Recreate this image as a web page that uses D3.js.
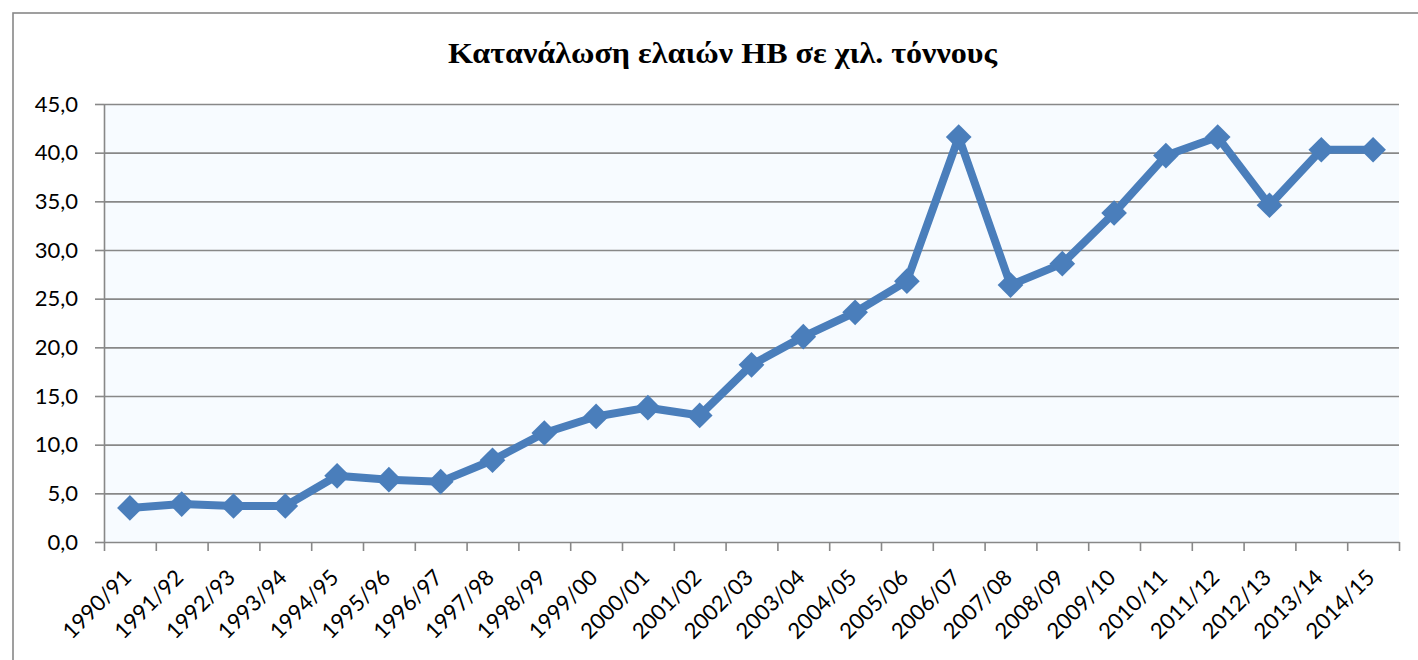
<!DOCTYPE html>
<html>
<head>
<meta charset="utf-8">
<script src="https://cdn.jsdelivr.net/npm/d3@7"></script>
<style>
  body { margin: 0; background: #fff; }
  svg { display: block; }
  .axis text { font-family: Lato, "Open Sans", sans-serif; font-size: 22px; fill: #000; }
  .axis path, .axis line { stroke: #888; stroke-width: 1.6; }
</style>
</head>
<body>
<svg width="1418" height="660"></svg>
<script>
// seasons on the x axis
const seasons = ['1990/91','1991/92','1992/93','1993/94','1994/95','1995/96','1996/97','1997/98',
  '1998/99','1999/00','2000/01','2001/02','2002/03','2003/04','2004/05','2005/06','2006/07',
  '2007/08','2008/09','2009/10','2010/11','2011/12','2012/13','2013/14','2014/15'];

// consumption, thousand tonnes
const consumption = [3.5, 3.9, 3.7, 3.7, 6.8, 6.4, 6.2, 8.4, 11.2, 12.9, 13.8, 13.0, 18.2,
  21.1, 23.6, 26.8, 41.6, 26.4, 28.6, 33.8, 39.7, 41.6, 34.6, 40.3, 40.3];

const yTicks = [0, 5, 10, 15, 20, 25, 30, 35, 40, 45];
const title = 'Κατανάλωση ελαιών ΗΒ σε χιλ. τόννους';

let svg = d3.select('svg');
const plotLeft = 104, plotRight = 1399, plotTop = 104, plotBottom = 542;
const blue = '#4a7ebb';

// outer chart frame (right and bottom edges fall outside the picture)
svg.append('rect')
  .attr('x', 13).attr('y', 13)
  .attr('width', 1420).attr('height', 700)
  .attr('fill', '#fff')
  .attr('stroke', '#888')
  .attr('stroke-width', 1.6);

svg.append('text')
  .attr('x', 448).attr('y', 63)
  .attr('textLength', 549)
  .attr('lengthAdjust', 'spacingAndGlyphs')
  .style('font-family', '"Liberation Serif", "Times New Roman", serif')
  .style('font-weight', 'bold')
  .style('font-size', '30px')
  .text(title);

let x = d3.scaleBand().domain(seasons).range([plotLeft, plotRight]).padding(0);
let xEdge = d3.scaleLinear().domain([0, seasons.length]).range([plotLeft, plotRight]);
let y = d3.scaleLinear().domain([0, 45]).range([plotBottom, plotTop]);

svg.append('rect')
  .attr('x', plotLeft).attr('y', plotTop)
  .attr('width', plotRight - plotLeft).attr('height', plotBottom - plotTop)
  .attr('fill', '#f7fbff');

// gridlines
svg.append('g')
  .attr('class', 'axis grid')
  .attr('transform', 'translate(' + plotLeft + ',0)')
  .call(d3.axisLeft(y).tickValues(yTicks.slice(1)).tickSize(-(plotRight - plotLeft)).tickFormat(''))
  .call(g => g.select('.domain').remove());

// y axis
svg.append('g')
  .attr('class', 'axis')
  .attr('transform', 'translate(' + plotLeft + ',0)')
  .call(d3.axisLeft(y).tickValues(yTicks).tickSize(9).tickSizeOuter(0).tickPadding(17)
    .tickFormat(d => d3.format('.1f')(d).replace('.', ',')));

// x axis: ticks on the category edges
svg.append('g')
  .attr('class', 'axis')
  .attr('transform', 'translate(0,' + plotBottom + ')')
  .call(d3.axisBottom(xEdge).tickValues(d3.range(seasons.length + 1)).tickSize(9).tickSizeOuter(0).tickFormat(''));

svg.append('g')
  .attr('class', 'axis')
  .selectAll('text')
  .data(seasons)
  .enter()
  .append('text')
    .attr('transform', d => 'translate(' + (x(d) + x.bandwidth() / 2 + 3) + ',' + 579 + ') rotate(-45)')
    .attr('text-anchor', 'end')
    .text(d => d);

let line = d3.line()
  .x((d, i) => x(seasons[i]) + x.bandwidth() / 2)
  .y(d => y(d));

svg.append('path')
  .datum(consumption)
  .attr('d', line)
  .attr('fill', 'none')
  .attr('stroke', blue)
  .attr('stroke-width', 8)
  .attr('stroke-linejoin', 'round');

svg.selectAll('path.marker')
  .data(consumption)
  .enter()
  .append('path')
    .attr('class', 'marker')
    .attr('d', d3.symbol(d3.symbolSquare, 330))
    .attr('transform', (d, i) => 'translate(' + (x(seasons[i]) + x.bandwidth() / 2) + ',' + y(d) + ') rotate(45)')
    .attr('fill', blue);
</script>
</body>
</html>
